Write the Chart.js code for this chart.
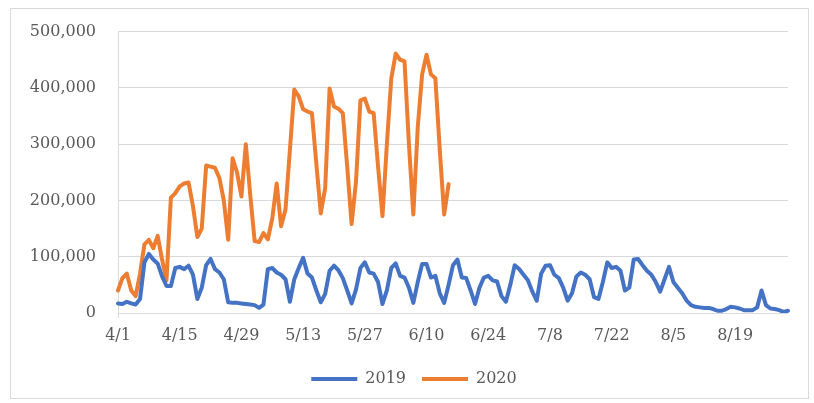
<!DOCTYPE html>
<html lang="ja">
<head>
    <meta charset="UTF-8">
    <title>2019 / 2020</title>
    <style>
        html, body {
            margin: 0;
            padding: 0;
            background: #ffffff;
        }

        .wrap {
            position: relative;
            width: 814px;
            height: 403px;
        }

        .frame {
            position: absolute;
            left: 10px;
            top: 8px;
            width: 799px;
            height: 391px;
            border: 1px solid #d9d9d9;
            box-sizing: border-box;
            pointer-events: none;
        }
    </style>
    <script src="https://cdn.jsdelivr.net/npm/chart.js"></script>
</head>
<body>
    <div class="wrap">
        <canvas id="grafico" width="814" height="403"></canvas>
        <div class="frame"></div>
    </div>
    <script>
        // months shown on the x axis (month, number of days)
        const months = [[4, 30], [5, 31], [6, 30], [7, 31], [8, 31]];
        const tickLabels = ['4/1', '4/15', '4/29', '5/13', '5/27', '6/10', '6/24', '7/8', '7/22', '8/5', '8/19'];

        const serie2019 = [
            17000, 16000, 20000, 17000, 15000, 25000, 90000, 105000, 95000, 88000,
            65000, 48000, 48000, 80000, 82000, 78000, 84000, 68000, 25000, 45000,
            85000, 96000, 78000, 72000, 60000, 19000, 18000, 18000, 17000, 16000,
            15000, 14000, 9000, 15000, 78000, 80000, 72000, 68000, 60000, 20000,
            60000, 80000, 98000, 70000, 63000, 40000, 19000, 34000, 75000, 84000,
            76000, 62000, 40000, 17000, 42000, 80000, 90000, 72000, 70000, 55000,
            16000, 40000, 80000, 88000, 66000, 63000, 45000, 18000, 55000, 87000,
            87000, 63000, 66000, 35000, 18000, 50000, 85000, 95000, 63000, 62000,
            40000, 16000, 45000, 63000, 66000, 58000, 56000, 30000, 20000, 50000,
            85000, 78000, 68000, 58000, 38000, 22000, 70000, 84000, 85000, 68000,
            62000, 45000, 22000, 35000, 65000, 72000, 68000, 60000, 28000, 25000,
            55000, 90000, 80000, 82000, 75000, 40000, 45000, 95000, 96000, 85000,
            75000, 68000, 55000, 38000, 60000, 82000, 55000, 45000, 35000, 22000,
            14000, 11000, 10000, 9000, 9000, 7000, 4000, 4000, 7000, 11000,
            10000, 8000, 5000, 5000, 5000, 10000, 40000, 14000, 8000, 7000,
            5000, 2000, 4000
        ];

        const serie2020 = [
            40000, 62000, 70000, 40000, 30000, 70000, 122000, 130000, 115000, 137000,
            95000, 58000, 205000, 213000, 225000, 230000, 232000, 190000, 135000, 150000,
            262000, 260000, 258000, 240000, 200000, 130000, 275000, 250000, 207000, 300000,
            210000, 128000, 126000, 142000, 131000, 168000, 230000, 154000, 184000, 290000,
            397000, 385000, 362000, 358000, 355000, 265000, 177000, 222000, 399000, 367000,
            363000, 355000, 260000, 158000, 234000, 378000, 381000, 358000, 355000, 260000,
            172000, 300000, 417000, 461000, 450000, 447000, 300000, 175000, 330000, 424000,
            459000, 424000, 417000, 290000, 175000, 229000
        ];

        const dias = [];
        months.forEach(([m, n]) => {
            for (let d = 1; d <= n; d++) dias.push(m + '/' + d);
        });

        const fonte = { family: "'DejaVu Serif', serif", size: 16 };
        const cinza = '#d9d9d9';

        // the legend sits a little right of the canvas centre
        const moverLegenda = {
            id: 'moverLegenda',
            afterLayout(chart) {
                chart.legend.left += 20;
                chart.legend.right += 20;
            }
        };

        const ctx = document.getElementById('grafico').getContext('2d');
        new Chart(ctx, {
            type: 'line',
            data: {
                labels: dias,
                datasets: [
                    {
                        label: '2019',
                        data: serie2019,
                        borderColor: '#4472c4',
                        backgroundColor: '#4472c4',
                        borderWidth: 4,
                        pointRadius: 0,
                        borderJoinStyle: 'round',
                        borderCapStyle: 'round',
                        tension: 0
                    },
                    {
                        label: '2020',
                        data: serie2020,
                        borderColor: '#ed7d31',
                        backgroundColor: '#ed7d31',
                        borderWidth: 4,
                        pointRadius: 0,
                        borderJoinStyle: 'round',
                        borderCapStyle: 'round',
                        tension: 0
                    }
                ]
            },
            options: {
                responsive: false,
                animation: false,
                layout: {
                    padding: { top: 30, right: 26, bottom: 6, left: 0 }
                },
                scales: {
                    x: {
                        grid: {
                            color: (c) => tickLabels.includes(dias[c.index]) ? cinza : 'rgba(0,0,0,0)',
                            tickLength: 5
                        },
                        border: { display: false },
                        ticks: {
                            autoSkip: false,
                            maxRotation: 0,
                            color: '#595959',
                            font: fonte,
                            padding: 8,
                            callback: function (v, i) {
                                const l = dias[i];
                                return tickLabels.includes(l) ? l : null;
                            }
                        },
                        afterFit: (s) => { s.height = 42; }
                    },
                    y: {
                        min: 0,
                        max: 500000,
                        grid: { color: cinza, drawTicks: false },
                        border: { display: false },
                        ticks: {
                            stepSize: 100000,
                            color: '#595959',
                            font: fonte,
                            padding: 22,
                            callback: (v) => v.toLocaleString('en-US')
                        },
                        afterFit: (s) => { s.width = 118; }
                    }
                },
                plugins: {
                    legend: {
                        position: 'bottom',
                        labels: {
                            usePointStyle: true,
                            pointStyle: 'line',
                            pointStyleWidth: 46,
                            color: '#595959',
                            font: fonte,
                            padding: 16
                        }
                    },
                    tooltip: { enabled: false }
                }
            },
            plugins: [moverLegenda]
        });
    </script>
</body>
</html>
